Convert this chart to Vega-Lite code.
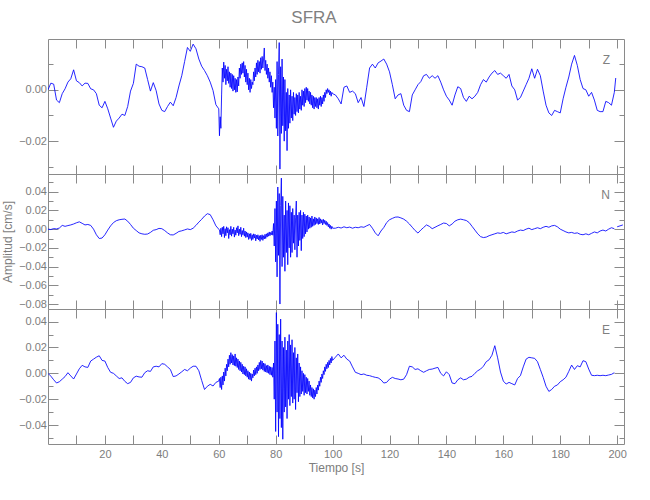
{
"$schema": "https://vega.github.io/schema/vega-lite/v6.json",
"background": "white",
"padding": {"left": 1, "top": 8, "right": 5, "bottom": 5},
"title": {"text": "SFRA", "fontSize": 17, "font": "Liberation Sans", "fontWeight": "normal", "color": "#808080", "anchor": "middle", "offset": 12},
"spacing": 0,
"bounds": "flush",
"data": {"values": [
{"t":0,"z":0,"n":0,"e":0},
{"t":1,"z":0.0026,"n":-0.0004,"e":-0.0022},
{"t":2,"z":0.0022,"n":0.0006,"e":-0.005},
{"t":3,"z":-0.004,"n":0.0002,"e":-0.0075},
{"t":4,"z":-0.005,"n":0.0012,"e":-0.0065},
{"t":5,"z":-0.0015,"n":0.004,"e":-0.0045},
{"t":6,"z":0.0004,"n":0.003,"e":-0.0025},
{"t":7,"z":0.003,"n":0.0038,"e":0.0005},
{"t":8,"z":0.0043,"n":0.0045,"e":-0.002},
{"t":9,"z":0.0078,"n":0.0055,"e":-0.0044},
{"t":10,"z":0.0035,"n":0.0068,"e":-0.0005},
{"t":11,"z":0.0028,"n":0.0078,"e":0.0035},
{"t":12,"z":0.0015,"n":0.0062,"e":0.0062},
{"t":13,"z":0.0026,"n":0.0045,"e":0.005},
{"t":14,"z":0.0025,"n":0.005,"e":0.0046},
{"t":15,"z":0.0004,"n":0.004,"e":0.0095},
{"t":16,"z":0,"n":0,"e":0.011},
{"t":17,"z":-0.0015,"n":-0.006,"e":0.0125},
{"t":18,"z":-0.006,"n":-0.01,"e":0.0136},
{"t":19,"z":-0.007,"n":-0.0095,"e":0.01},
{"t":20,"z":-0.0045,"n":-0.006,"e":0.0095},
{"t":21,"z":-0.0074,"n":-0.001,"e":0.0045},
{"t":22,"z":-0.011,"n":0.0035,"e":0.0008},
{"t":23,"z":-0.0146,"n":0.007,"e":0},
{"t":24,"z":-0.0122,"n":0.009,"e":-0.002},
{"t":25,"z":-0.011,"n":0.01,"e":-0.004},
{"t":26,"z":-0.0095,"n":0.0105,"e":-0.0035},
{"t":27,"z":-0.01,"n":0.0108,"e":-0.0062},
{"t":28,"z":-0.0065,"n":0.0085,"e":-0.008},
{"t":29,"z":-0.0005,"n":0.005,"e":-0.007},
{"t":30,"z":0.0025,"n":0.001,"e":-0.0035},
{"t":31,"z":0.01,"n":-0.0015,"e":-0.0022},
{"t":32,"z":0.0092,"n":-0.004,"e":-0.0028},
{"t":33,"z":0.009,"n":-0.005,"e":-0.003},
{"t":34,"z":0.0085,"n":-0.0055,"e":0.0005},
{"t":35,"z":0.004,"n":-0.0052,"e":0.002},
{"t":36,"z":-0.0005,"n":-0.0035,"e":0.0015},
{"t":37,"z":0.0028,"n":-0.0012,"e":0.005},
{"t":38,"z":-0.0003,"n":-0.0005,"e":0.0055},
{"t":39,"z":-0.0055,"n":0.0008,"e":0.005},
{"t":40,"z":-0.008,"n":0.0005,"e":0.0075},
{"t":41,"z":-0.0085,"n":-0.0015,"e":0.007},
{"t":42,"z":-0.0065,"n":-0.004,"e":0.005},
{"t":43,"z":-0.0048,"n":-0.006,"e":0.003},
{"t":44,"z":-0.0062,"n":-0.0062,"e":-0.0025},
{"t":45,"z":-0.003,"n":-0.0045,"e":-0.002},
{"t":46,"z":0.0015,"n":-0.0025,"e":-0.0005},
{"t":47,"z":0.0055,"n":-0.0018,"e":0.0012},
{"t":48,"z":0.011,"n":-0.0008,"e":0.003},
{"t":49,"z":0.0165,"n":0.0002,"e":0.002},
{"t":50,"z":0.015,"n":-0.0005,"e":0.004},
{"t":51,"z":0.0178,"n":0.001,"e":0.0055},
{"t":52,"z":0.016,"n":0.004,"e":0.0055},
{"t":53,"z":0.012,"n":0.0075,"e":0.002},
{"t":54,"z":0.0092,"n":0.0105,"e":-0.0055},
{"t":55,"z":0.0075,"n":0.014,"e":-0.0125},
{"t":56,"z":0.0055,"n":0.0165,"e":-0.01},
{"t":57,"z":0.003,"n":0.0155,"e":-0.0085},
{"t":58,"z":-0.0003,"n":0.01,"e":-0.0098},
{"t":59,"z":-0.0058,"n":0.0035,"e":-0.007},
{"t":60,"z":-0.0074,"n":0,"e":-0.006},
{"t":60.25,"z":-0.0179,"n":-0.001,"e":-0.004},
{"t":60.5,"z":-0.0105,"n":-0.006,"e":-0.011},
{"t":60.75,"z":-0.015,"n":0.001,"e":-0.003},
{"t":61,"z":-0.002,"n":-0.008,"e":-0.0125},
{"t":61.25,"z":0.0085,"n":0.002,"e":-0.002},
{"t":61.5,"z":0.003,"n":-0.005,"e":-0.009},
{"t":61.75,"z":0.0108,"n":0.003,"e":0.001},
{"t":62,"z":0.0045,"n":-0.009,"e":-0.006},
{"t":62.25,"z":0.0095,"n":0.0005,"e":0.004},
{"t":62.5,"z":0.002,"n":-0.007,"e":-0.002},
{"t":62.75,"z":0.008,"n":0.0025,"e":0.007},
{"t":63,"z":0.0035,"n":-0.004,"e":0.002},
{"t":63.25,"z":0.009,"n":0.0015,"e":0.011},
{"t":63.5,"z":0.0025,"n":-0.01,"e":0.005},
{"t":63.75,"z":0.007,"n":-0.0005,"e":0.014},
{"t":64,"z":0.001,"n":-0.006,"e":0.007},
{"t":64.25,"z":0.0065,"n":0.003,"e":0.016},
{"t":64.5,"z":0.0005,"n":-0.0075,"e":0.008},
{"t":64.75,"z":0.006,"n":0,"e":0.0145},
{"t":65,"z":-0.0005,"n":-0.005,"e":0.0065},
{"t":65.25,"z":0.0055,"n":0.002,"e":0.0135},
{"t":65.5,"z":0,"n":-0.0085,"e":0.006},
{"t":65.75,"z":0.0045,"n":-0.001,"e":0.015},
{"t":66,"z":-0.001,"n":-0.0065,"e":0.0055},
{"t":66.25,"z":0.004,"n":0.0015,"e":0.012},
{"t":66.5,"z":-0.0008,"n":-0.004,"e":0.0045},
{"t":66.75,"z":0.005,"n":0.0035,"e":0.011},
{"t":67,"z":0.0015,"n":-0.007,"e":0.003},
{"t":67.25,"z":0.0085,"n":0,"e":0.0095},
{"t":67.5,"z":0.0045,"n":-0.0055,"e":0.002},
{"t":67.75,"z":0.01,"n":0.002,"e":0.0085},
{"t":68,"z":0.006,"n":-0.008,"e":0.001},
{"t":68.25,"z":0.0105,"n":-0.0015,"e":0.007},
{"t":68.5,"z":0.0065,"n":-0.006,"e":-0.0005},
{"t":68.75,"z":0.011,"n":0.001,"e":0.0055},
{"t":69,"z":0.005,"n":-0.0075,"e":-0.001},
{"t":69.25,"z":0.0095,"n":-0.002,"e":0.005},
{"t":69.5,"z":0.003,"n":-0.009,"e":-0.002},
{"t":69.75,"z":0.008,"n":-0.003,"e":0.0035},
{"t":70,"z":0.002,"n":-0.0085,"e":-0.003},
{"t":70.25,"z":0.0065,"n":-0.004,"e":0.002},
{"t":70.5,"z":0,"n":-0.011,"e":-0.0045},
{"t":70.75,"z":0.0045,"n":-0.005,"e":0.001},
{"t":71,"z":-0.001,"n":-0.01,"e":-0.005},
{"t":71.25,"z":0.004,"n":-0.0045,"e":0},
{"t":71.5,"z":0.0005,"n":-0.012,"e":-0.006},
{"t":71.75,"z":0.003,"n":-0.006,"e":-0.0005},
{"t":72,"z":0.002,"n":-0.011,"e":-0.0035},
{"t":72.25,"z":0.007,"n":-0.005,"e":0.0025},
{"t":72.5,"z":0.0035,"n":-0.0095,"e":-0.002},
{"t":72.75,"z":0.0085,"n":-0.0055,"e":0.004},
{"t":73,"z":0.005,"n":-0.0125,"e":-0.001},
{"t":73.25,"z":0.0105,"n":-0.0065,"e":0.005},
{"t":73.5,"z":0.006,"n":-0.0105,"e":0},
{"t":73.75,"z":0.0115,"n":-0.006,"e":0.0065},
{"t":74,"z":0.007,"n":-0.0115,"e":0.002},
{"t":74.25,"z":0.011,"n":-0.007,"e":0.0085},
{"t":74.5,"z":0.0065,"n":-0.013,"e":0.003},
{"t":74.75,"z":0.0125,"n":-0.0065,"e":0.01},
{"t":75,"z":0.008,"n":-0.011,"e":0.0035},
{"t":75.25,"z":0.013,"n":-0.006,"e":0.0095},
{"t":75.5,"z":0.0085,"n":-0.012,"e":0.0025},
{"t":75.75,"z":0.012,"n":-0.007,"e":0.008},
{"t":76,"z":0.0163,"n":-0.0105,"e":0.0015},
{"t":76.25,"z":0.0075,"n":-0.0055,"e":0.0075},
{"t":76.5,"z":0.0115,"n":-0.01,"e":0.001},
{"t":76.75,"z":0.006,"n":-0.005,"e":0.006},
{"t":77,"z":0.01,"n":-0.0085,"e":0.0005},
{"t":77.25,"z":0.0045,"n":-0.004,"e":0.0065},
{"t":77.5,"z":0.0085,"n":-0.0075,"e":0},
{"t":77.75,"z":0.003,"n":-0.003,"e":0.0055},
{"t":78,"z":0.007,"n":-0.007,"e":-0.001},
{"t":78.25,"z":0.001,"n":-0.0035,"e":0.005},
{"t":78.5,"z":0.0055,"n":-0.006,"e":-0.0015},
{"t":78.75,"z":-0.001,"n":-0.002,"e":0.0045},
{"t":79,"z":0.003,"n":-0.0065,"e":-0.003},
{"t":79.25,"z":-0.007,"n":0.006,"e":0.008},
{"t":79.5,"z":0.001,"n":-0.018,"e":-0.02},
{"t":79.75,"z":-0.011,"n":0.022,"e":0.025},
{"t":80,"z":0.004,"n":-0.035,"e":-0.045},
{"t":80.25,"z":-0.015,"n":0.03,"e":0.047},
{"t":80.5,"z":0.011,"n":-0.051,"e":-0.03},
{"t":80.75,"z":-0.018,"n":0.045,"e":0.038},
{"t":81,"z":0.006,"n":-0.028,"e":-0.049},
{"t":81.25,"z":0.0184,"n":0.038,"e":0.03},
{"t":81.5,"z":-0.0309,"n":-0.08,"e":-0.035},
{"t":81.75,"z":0.009,"n":0.025,"e":0.042},
{"t":82,"z":-0.017,"n":0.0545,"e":-0.042},
{"t":82.25,"z":0.012,"n":-0.04,"e":0.025},
{"t":82.5,"z":-0.014,"n":0.035,"e":-0.051},
{"t":82.75,"z":0.005,"n":-0.03,"e":0.02},
{"t":83,"z":-0.02,"n":0.015,"e":-0.03},
{"t":83.25,"z":0.004,"n":-0.045,"e":0.028},
{"t":83.5,"z":-0.016,"n":0.03,"e":-0.026},
{"t":83.75,"z":-0.001,"n":-0.025,"e":0.018},
{"t":84,"z":-0.0237,"n":0.02,"e":-0.035},
{"t":84.25,"z":0.0005,"n":-0.038,"e":0.025},
{"t":84.5,"z":-0.015,"n":0.028,"e":-0.02},
{"t":84.75,"z":-0.002,"n":-0.02,"e":0.03},
{"t":85,"z":-0.013,"n":0.025,"e":-0.025},
{"t":85.25,"z":0,"n":-0.03,"e":0.022},
{"t":85.5,"z":-0.011,"n":0.018,"e":-0.018},
{"t":85.75,"z":-0.0025,"n":-0.025,"e":0.026},
{"t":86,"z":-0.012,"n":0.022,"e":-0.023},
{"t":86.25,"z":-0.001,"n":-0.015,"e":0.016},
{"t":86.5,"z":-0.0095,"n":0.015,"e":-0.02},
{"t":86.75,"z":-0.003,"n":-0.022,"e":0.02},
{"t":87,"z":-0.01,"n":0.012,"e":-0.028},
{"t":87.25,"z":-0.0015,"n":0.03,"e":0.012},
{"t":87.5,"z":-0.0085,"n":-0.03,"e":-0.015},
{"t":87.75,"z":-0.002,"n":0.015,"e":0.015},
{"t":88,"z":-0.009,"n":-0.018,"e":-0.022},
{"t":88.25,"z":-0.001,"n":0.018,"e":0.008},
{"t":88.5,"z":-0.0075,"n":-0.012,"e":-0.018},
{"t":88.75,"z":-0.0025,"n":0.02,"e":0.005},
{"t":89,"z":-0.008,"n":-0.023,"e":-0.016},
{"t":89.25,"z":0,"n":0.015,"e":0.002},
{"t":89.5,"z":-0.006,"n":-0.01,"e":-0.014},
{"t":89.75,"z":-0.0005,"n":0.018,"e":0},
{"t":90,"z":-0.0065,"n":-0.008,"e":-0.017},
{"t":90.25,"z":0.0005,"n":0.016,"e":-0.001},
{"t":90.5,"z":-0.005,"n":-0.005,"e":-0.015},
{"t":90.75,"z":0.001,"n":0.014,"e":-0.003},
{"t":91,"z":-0.004,"n":-0.003,"e":-0.016},
{"t":91.25,"z":0.0005,"n":0.015,"e":-0.004},
{"t":91.5,"z":-0.0045,"n":0,"e":-0.014},
{"t":91.75,"z":-0.0005,"n":0.013,"e":-0.006},
{"t":92,"z":-0.0055,"n":0.001,"e":-0.017},
{"t":92.25,"z":-0.001,"n":0.012,"e":-0.009},
{"t":92.5,"z":-0.006,"n":0.002,"e":-0.018},
{"t":92.75,"z":-0.002,"n":0.014,"e":-0.011},
{"t":93,"z":-0.007,"n":0.003,"e":-0.019},
{"t":93.25,"z":-0.0025,"n":0.011,"e":-0.012},
{"t":93.5,"z":-0.0075,"n":0.004,"e":-0.02},
{"t":93.75,"z":-0.003,"n":0.013,"e":-0.013},
{"t":94,"z":-0.0065,"n":0.005,"e":-0.018},
{"t":94.25,"z":-0.003,"n":0.012,"e":-0.011},
{"t":94.5,"z":-0.007,"n":0.006,"e":-0.016},
{"t":94.75,"z":-0.0035,"n":0.011,"e":-0.009},
{"t":95,"z":-0.0075,"n":0.005,"e":-0.013},
{"t":95.25,"z":-0.003,"n":0.0125,"e":-0.006},
{"t":95.5,"z":-0.006,"n":0.0055,"e":-0.01},
{"t":95.75,"z":-0.0025,"n":0.011,"e":-0.003},
{"t":96,"z":-0.0065,"n":0.0065,"e":-0.007},
{"t":96.25,"z":-0.003,"n":0.01,"e":-0.0005},
{"t":96.5,"z":-0.0055,"n":0.0045,"e":-0.004},
{"t":96.75,"z":-0.002,"n":0.0105,"e":0.002},
{"t":97,"z":-0.0045,"n":0.006,"e":-0.001},
{"t":97.25,"z":-0.001,"n":0.0095,"e":0.005},
{"t":97.5,"z":-0.003,"n":0.005,"e":0.0015},
{"t":97.75,"z":0,"n":0.0085,"e":0.007},
{"t":98,"z":-0.0015,"n":0.004,"e":0.0035},
{"t":98.25,"z":0.0005,"n":0.007,"e":0.0085},
{"t":98.5,"z":-0.001,"n":0.0025,"e":0.0045},
{"t":98.75,"z":0,"n":0.0055,"e":0.01},
{"t":99,"z":-0.002,"n":0.001,"e":0.0065},
{"t":99.25,"z":-0.0005,"n":0.004,"e":0.0115},
{"t":99.5,"z":-0.0025,"n":0,"e":0.008},
{"t":99.75,"z":-0.001,"n":0.003,"e":0.013},
{"t":100,"z":-0.0015,"n":0.001,"e":0.01},
{"t":101,"z":-0.002,"n":0.001,"e":0.0125},
{"t":102,"z":-0.0035,"n":0.002,"e":0.015},
{"t":103,"z":-0.0055,"n":0.0012,"e":0.012},
{"t":104,"z":0.001,"n":0.0025,"e":0.014},
{"t":105,"z":0.0015,"n":0.0015,"e":0.011},
{"t":106,"z":-0.001,"n":0.0022,"e":0.0095},
{"t":107,"z":-0.0005,"n":0.001,"e":0.005},
{"t":108,"z":-0.0015,"n":0.002,"e":0.0008},
{"t":109,"z":-0.005,"n":0.0015,"e":0},
{"t":110,"z":-0.003,"n":0.0025,"e":-0.001},
{"t":111,"z":-0.0065,"n":0.002,"e":-0.0005},
{"t":112,"z":0.001,"n":0.0036,"e":-0.0015},
{"t":113,"z":0.0085,"n":0.005,"e":-0.0018},
{"t":114,"z":0.01,"n":0.001,"e":-0.0025},
{"t":115,"z":0.0085,"n":-0.004,"e":-0.0031},
{"t":116,"z":0.0105,"n":-0.0071,"e":-0.0035},
{"t":117,"z":0.0112,"n":-0.002,"e":-0.005},
{"t":118,"z":0.012,"n":0.0018,"e":-0.0075},
{"t":119,"z":0.01,"n":0.007,"e":-0.007},
{"t":120,"z":0.007,"n":0.01,"e":-0.0045},
{"t":121,"z":0.002,"n":0.0115,"e":-0.0031},
{"t":122,"z":-0.0035,"n":0.0128,"e":-0.004},
{"t":123,"z":-0.002,"n":0.013,"e":-0.0044},
{"t":124,"z":-0.0015,"n":0.012,"e":-0.005},
{"t":125,"z":-0.006,"n":0.0107,"e":-0.0045},
{"t":126,"z":-0.008,"n":0.0085,"e":-0.001},
{"t":127,"z":-0.0085,"n":0.0055,"e":0.0055},
{"t":128,"z":-0.002,"n":0.002,"e":0.005},
{"t":129,"z":0,"n":-0.0015,"e":0.003},
{"t":130,"z":0.002,"n":-0.0042,"e":0.0035},
{"t":131,"z":0.0032,"n":-0.001,"e":0.002},
{"t":132,"z":0.0055,"n":0.0018,"e":0.0008},
{"t":133,"z":0.006,"n":0.0045,"e":0.002},
{"t":134,"z":0.0045,"n":0.003,"e":0.003},
{"t":135,"z":0.0055,"n":0.0005,"e":0.0033},
{"t":136,"z":0.0045,"n":0.002,"e":0.004},
{"t":137,"z":0.0055,"n":0.0036,"e":0.0046},
{"t":138,"z":0.003,"n":0.005,"e":0},
{"t":139,"z":0,"n":0.0065,"e":-0.002},
{"t":140,"z":-0.0025,"n":0.006,"e":0.0012},
{"t":141,"z":-0.004,"n":0.0035,"e":-0.001},
{"t":142,"z":-0.006,"n":0.0055,"e":-0.0075},
{"t":143,"z":-0.002,"n":0.0085,"e":-0.008},
{"t":144,"z":0.0012,"n":0.01,"e":-0.005},
{"t":145,"z":0.0005,"n":0.0107,"e":-0.0035},
{"t":146,"z":-0.003,"n":0.01,"e":-0.005},
{"t":147,"z":-0.0045,"n":0.0092,"e":-0.0045},
{"t":148,"z":-0.0025,"n":0.007,"e":-0.003},
{"t":149,"z":-0.0035,"n":0.003,"e":-0.0023},
{"t":150,"z":-0.0025,"n":-0.001,"e":0},
{"t":151,"z":-0.001,"n":-0.005,"e":0.002},
{"t":152,"z":0.002,"n":-0.008,"e":0.0033},
{"t":153,"z":0.004,"n":-0.009,"e":0.0055},
{"t":154,"z":0.003,"n":-0.0085,"e":0.009},
{"t":155,"z":0.005,"n":-0.007,"e":0.0105},
{"t":156,"z":0.0065,"n":-0.006,"e":0.014},
{"t":157,"z":0.0075,"n":-0.005,"e":0.0214},
{"t":158,"z":0.006,"n":-0.004,"e":0.012},
{"t":159,"z":0.0065,"n":-0.0045,"e":0.001},
{"t":160,"z":0.0055,"n":-0.0035,"e":-0.006},
{"t":161,"z":0.0045,"n":-0.005,"e":-0.0083},
{"t":162,"z":0.006,"n":-0.004,"e":-0.007},
{"t":163,"z":0.0015,"n":-0.003,"e":-0.008},
{"t":164,"z":0,"n":-0.0035,"e":-0.009},
{"t":165,"z":-0.004,"n":-0.002,"e":-0.004},
{"t":166,"z":-0.003,"n":-0.001,"e":-0.0018},
{"t":167,"z":-0.0005,"n":-0.0015,"e":0.005},
{"t":168,"z":0.002,"n":0,"e":0.011},
{"t":169,"z":0.0045,"n":0.001,"e":0.0124},
{"t":170,"z":0.0082,"n":-0.0005,"e":0.012},
{"t":171,"z":0.0045,"n":0.0005,"e":0.0116},
{"t":172,"z":0.008,"n":0.0015,"e":0.009},
{"t":173,"z":0.0055,"n":0.0005,"e":0.003},
{"t":174,"z":-0.0005,"n":0.002,"e":-0.0031},
{"t":175,"z":-0.006,"n":0.003,"e":-0.01},
{"t":176,"z":-0.009,"n":0.002,"e":-0.014},
{"t":177,"z":-0.01,"n":0.0035,"e":-0.0125},
{"t":178,"z":-0.008,"n":0.004,"e":-0.01},
{"t":179,"z":-0.0085,"n":0.0025,"e":-0.009},
{"t":180,"z":-0.009,"n":0,"e":-0.0065},
{"t":181,"z":-0.0035,"n":-0.0015,"e":-0.005},
{"t":182,"z":0.001,"n":-0.003,"e":-0.003},
{"t":183,"z":0.005,"n":-0.004,"e":0.0015},
{"t":184,"z":0.01,"n":-0.0035,"e":0.0064},
{"t":185,"z":0.0134,"n":-0.0045,"e":0.003},
{"t":186,"z":0.0095,"n":-0.004,"e":0.0059},
{"t":187,"z":0.004,"n":-0.0055,"e":0.005},
{"t":188,"z":0.0005,"n":-0.006,"e":0.0098},
{"t":189,"z":0,"n":-0.005,"e":0.009},
{"t":190,"z":-0.0025,"n":-0.006,"e":0.0033},
{"t":191,"z":-0.001,"n":-0.0045,"e":-0.0015},
{"t":192,"z":-0.004,"n":-0.003,"e":-0.0018},
{"t":193,"z":-0.008,"n":-0.004,"e":-0.0015},
{"t":194,"z":-0.0085,"n":-0.002,"e":-0.0018},
{"t":195,"z":-0.0085,"n":-0.001,"e":-0.0015},
{"t":196,"z":-0.0045,"n":-0.002,"e":-0.0018},
{"t":197,"z":-0.005,"n":0,"e":-0.0013},
{"t":198,"z":-0.006,"n":0.0015,"e":-0.0008},
{"t":199,"z":-0.001,"n":0.0005,"e":0.0005},
{"t":199.5,"z":0.0046},
{"t":200,"n":0.0025,"e":0.0033},
{"t":201,"n":0.0035},
{"t":202,"n":0.0045}
]},
"vconcat": [
{
 "width": 576, "height": 135,
 "title": {"text": "Z", "anchor": "end", "frame": "group", "offset": -28, "dx": -14, "fontSize": 12, "font": "Liberation Sans", "fontWeight": "normal", "color": "#808080"},
 "layer": [
  {"mark": {"type": "line", "color": "#0000ff", "strokeWidth": 0.85, "clip": true},
   "encoding": {
    "x": {"field": "t", "type": "quantitative", "scale": {"domain": [0, 202.4], "nice": false, "zero": false},
      "axis": {"orient": "bottom", "values": [10,20,30,40,50,60,70,80,90,100,110,120,130,140,150,160,170,180,190,200], "labels": false, "tickSize": -9, "title": null}},
    "y": {"field": "z", "type": "quantitative", "scale": {"domain": [-0.0328, 0.0198], "nice": false, "zero": false},
      "axis": {"orient": "left", "values": [-0.03,-0.02,-0.01,0,0.01], "format": ".2f", "labelExpr": "abs(round(datum.value*50)-datum.value*50)<0.001 ? datum.label : ''", "tickSize": {"condition": {"test": "abs(round(datum.value*50)-datum.value*50)<0.001", "value": -10}, "value": -5}, "labelPadding": 11.5, "title": null}}
   }},
  {"mark": {"type": "line", "opacity": 0},
   "encoding": {
    "x": {"field": "t", "type": "quantitative", "axis": {"orient": "top", "values": [10,20,30,40,50,60,70,80,90,100,110,120,130,140,150,160,170,180,190,200], "labels": false, "tickSize": -9, "title": null}},
    "y": {"field": "z", "type": "quantitative", "axis": {"orient": "right", "values": [-0.03,-0.02,-0.01,0,0.01], "labels": false, "tickSize": {"condition": {"test": "abs(round(datum.value*50)-datum.value*50)<0.001", "value": -10}, "value": -5}, "title": null}}
   }}
 ],
 "resolve": {"axis": {"x": "independent", "y": "independent"}}
},
{
 "width": 576, "height": 135,
 "title": {"text": "N", "anchor": "end", "frame": "group", "offset": -28, "dx": -14, "fontSize": 12, "font": "Liberation Sans", "fontWeight": "normal", "color": "#808080"},
 "layer": [
  {"mark": {"type": "line", "color": "#0000ff", "strokeWidth": 0.85, "clip": true},
   "encoding": {
    "x": {"field": "t", "type": "quantitative", "scale": {"domain": [0, 202.4], "nice": false, "zero": false},
      "axis": {"orient": "bottom", "values": [10,20,30,40,50,60,70,80,90,100,110,120,130,140,150,160,170,180,190,200], "labels": false, "tickSize": -9, "title": null}},
    "y": {"field": "n", "type": "quantitative", "scale": {"domain": [-0.0853, 0.0589], "nice": false, "zero": false},
      "axis": {"orient": "left", "values": [-0.08,-0.07,-0.06,-0.05,-0.04,-0.03,-0.02,-0.01,0,0.01,0.02,0.03,0.04,0.05], "format": ".2f", "labelExpr": "abs(round(datum.value*50)-datum.value*50)<0.001 ? datum.label : ''", "tickSize": {"condition": {"test": "abs(round(datum.value*50)-datum.value*50)<0.001", "value": -10}, "value": -5}, "labelPadding": 11.5, "title": "Amplitud [cm/s]", "titlePadding": 4}}
   }},
  {"mark": {"type": "line", "opacity": 0},
   "encoding": {
    "x": {"field": "t", "type": "quantitative", "axis": {"orient": "top", "values": [10,20,30,40,50,60,70,80,90,100,110,120,130,140,150,160,170,180,190,200], "labels": false, "tickSize": -9, "title": null}},
    "y": {"field": "n", "type": "quantitative", "axis": {"orient": "right", "values": [-0.08,-0.07,-0.06,-0.05,-0.04,-0.03,-0.02,-0.01,0,0.01,0.02,0.03,0.04,0.05], "labels": false, "tickSize": {"condition": {"test": "abs(round(datum.value*50)-datum.value*50)<0.001", "value": -10}, "value": -5}, "title": null}}
   }}
 ],
 "resolve": {"axis": {"x": "independent", "y": "independent"}}
},
{
 "width": 576, "height": 135,
 "title": {"text": "E", "anchor": "end", "frame": "group", "offset": -28, "dx": -14, "fontSize": 12, "font": "Liberation Sans", "fontWeight": "normal", "color": "#808080"},
 "layer": [
  {"mark": {"type": "line", "color": "#0000ff", "strokeWidth": 0.85, "clip": true},
   "encoding": {
    "x": {"field": "t", "type": "quantitative", "scale": {"domain": [0, 202.4], "nice": false, "zero": false},
      "axis": {"orient": "bottom", "values": [10,20,30,40,50,60,70,80,90,100,110,120,130,140,150,160,170,180,190,200], "format": "d", "labelExpr": "datum.value % 20 == 0 ? datum.label : ''", "tickSize": -9, "labelPadding": 13, "title": "Tiempo [s]", "titlePadding": 3}},
    "y": {"field": "e", "type": "quantitative", "scale": {"domain": [-0.0547, 0.0498], "nice": false, "zero": false},
      "axis": {"orient": "left", "values": [-0.05,-0.04,-0.03,-0.02,-0.01,0,0.01,0.02,0.03,0.04], "format": ".2f", "labelExpr": "abs(round(datum.value*50)-datum.value*50)<0.001 ? datum.label : ''", "tickSize": {"condition": {"test": "abs(round(datum.value*50)-datum.value*50)<0.001", "value": -10}, "value": -5}, "labelPadding": 11.5, "title": null}}
   }},
  {"mark": {"type": "line", "opacity": 0},
   "encoding": {
    "x": {"field": "t", "type": "quantitative", "axis": {"orient": "top", "values": [10,20,30,40,50,60,70,80,90,100,110,120,130,140,150,160,170,180,190,200], "labels": false, "tickSize": -9, "title": null}},
    "y": {"field": "e", "type": "quantitative", "axis": {"orient": "right", "values": [-0.05,-0.04,-0.03,-0.02,-0.01,0,0.01,0.02,0.03,0.04], "labels": false, "tickSize": {"condition": {"test": "abs(round(datum.value*50)-datum.value*50)<0.001", "value": -10}, "value": -5}, "title": null}}
   }}
 ],
 "resolve": {"axis": {"x": "independent", "y": "independent"}}
}
],
"config": {
 "view": {"stroke": null},
 "axis": {"domainColor": "#8a8a8a", "tickColor": "#8a8a8a", "labelColor": "#7d7d7d", "titleColor": "#7d7d7d", "labelFont": "Liberation Sans", "titleFont": "Liberation Sans", "labelFontSize": 11, "titleFontSize": 12, "titleFontWeight": "normal", "grid": false, "domainWidth": 1, "tickWidth": 1, "labelOverlap": false, "labelFlush": false}
}
}
